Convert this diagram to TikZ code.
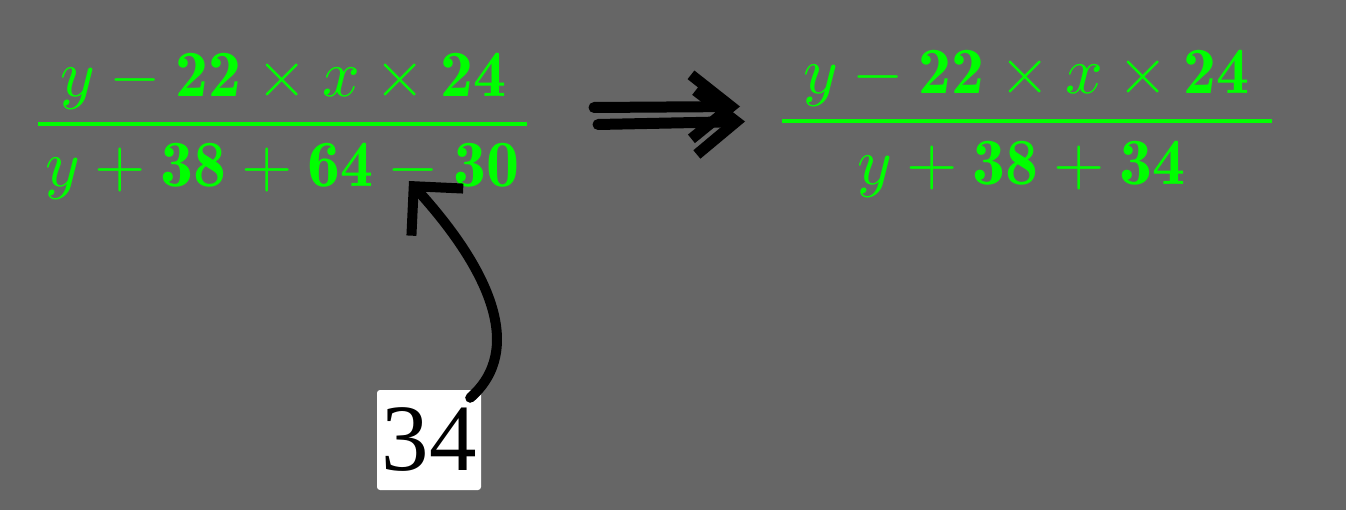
\documentclass[tikz,border=0pt]{standalone}
\usepackage[no-math]{fontspec}
\newfontfamily\timesfont{Liberation Serif}
\usetikzlibrary{arrows.meta,calc}
\definecolor{bg}{HTML}{666666}
\definecolor{mgreen}{HTML}{00FF00}
\newcommand\bdnum[1]{\mbox{\fontencoding{OT1}\fontfamily{cmr}\fontseries{b}\fontshape{n}\selectfont #1}}
\begin{document}
\begin{tikzpicture}[x=1pt,y=-1pt,
  expr/.style={text=mgreen, inner sep=0pt, anchor=base, scale=6.6, transform shape, font=\fontsize{10}{12}\selectfont},
  fracbar/.style={draw=mgreen, line width=4pt},
  bigarrow/.style={draw=black, line width=11pt, line cap=round, -{Straight Barb[length=40pt,width=64pt,sharp]}},
  curvearrow/.style={draw=black, line width=10pt, line cap=round, -{Straight Barb[length=35pt,width=70pt,sharp]}},
  numbox/.style={fill=white, rounded corners=3pt, minimum width=104pt, minimum height=100pt, inner sep=0pt, text=black, font=\timesfont\fontsize{95}{100}\selectfont}]
\path[use as bounding box, fill=bg] (0,0) rectangle (1346,510);
% left fraction
\node[expr] (n1) at (283.5,97) {$y-\bdnum{22}\times x\times\bdnum{24}$};
\node[expr] (d1) at (282.5,186.5) {$y+\bdnum{38}+\bdnum{64}-\bdnum{30}$};
\coordinate (b1l) at (38,124);
\coordinate (b1r) at (527,124);
\draw[fracbar] (b1l) -- (b1r);
% right fraction
\node[expr] (n2) at (1026.5,93.5) {$y-\bdnum{22}\times x\times\bdnum{24}$};
\node[expr] (d2) at (1021.5,185) {$y+\bdnum{38}+\bdnum{34}$};
\coordinate (b2l) at (782,121);
\coordinate (b2r) at (1272,121);
\draw[fracbar] (b2l) -- (b2r);
% double arrow
\coordinate (u1) at (594,107.5);
\coordinate (u2) at (740,106.5);
\coordinate (l1) at (598,124.5);
\coordinate (l2) at (745,121.5);
\draw[bigarrow] (u1) -- (u2);
\draw[bigarrow] (l1) -- (l2);
% 34 box and curved arrow
\node[numbox] (n34) at (429,440) {34};
\coordinate (tip) at (409,181);
\draw[curvearrow] ($(n34.north east)+(-11,8)$) .. controls (525,350) and (490,270) .. (tip);
\end{tikzpicture}
\end{document}
